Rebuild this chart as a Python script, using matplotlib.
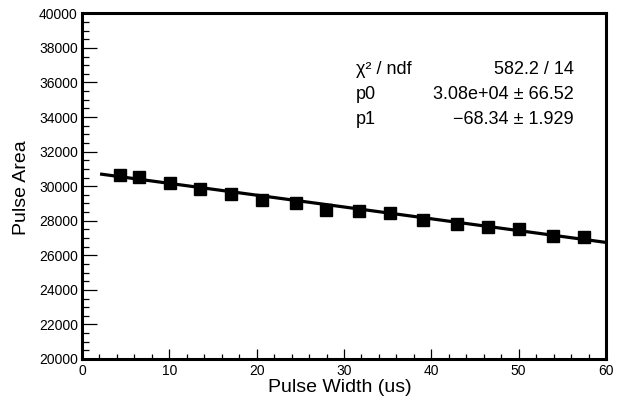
import matplotlib
matplotlib.use('Agg')
import matplotlib.pyplot as plt
from matplotlib.ticker import MultipleLocator

plt.rcParams['font.family'] = ['Liberation Sans', 'DejaVu Sans']

# measured points
pulse_width = [4.35, 6.49, 10.08, 13.51, 17.06, 20.65, 24.5, 27.94,
               31.75, 35.27, 39.08, 42.9, 46.52, 50.04, 53.97, 57.48]
pulse_area = [30671, 30521, 30191, 29862, 29538, 29209, 29018, 28630,
              28590, 28474, 28035, 27821, 27631, 27515, 27128, 27087]

# fit result (pol1)
p0 = 30845
p0_err = 66.52
p1 = -68.34
p1_err = 1.929
chi2 = 582.2
ndf = 14
fit_range = [2.25, 60]

fig = plt.figure(figsize=(6.21, 4.04), dpi=100)
ax = fig.add_axes([82/621, 1 - 359/404, (606-82)/621, (359-13.3)/404])

ax.plot(pulse_width, pulse_area, 's', color='black', markersize=8.6, zorder=3)
ax.plot(fit_range, [p0 + p1*x for x in fit_range], color='black', lw=2.3, zorder=2)

ax.set_xlim(0, 60)
ax.set_ylim(20000, 40000)
ax.xaxis.set_major_locator(MultipleLocator(10))
ax.xaxis.set_minor_locator(MultipleLocator(2))
ax.yaxis.set_major_locator(MultipleLocator(2000))
ax.yaxis.set_minor_locator(MultipleLocator(500))

for s in ax.spines.values():
    s.set_linewidth(2.2)
ax.tick_params(axis='both', which='both', direction='in', top=False, right=False,
               width=0.9, labelsize=10)
ax.tick_params(axis='x', which='major', length=7.5, pad=3.5)
ax.tick_params(axis='x', which='minor', length=3.7)
ax.tick_params(axis='y', which='major', length=10.6, pad=3)
ax.tick_params(axis='y', which='minor', length=5.3)

fig.text(340/621, 1 - 388/404, 'Pulse Width (us)', fontsize=14, ha='center', va='center')
fig.text(22/621, 1 - 188/404, 'Pulse Area', fontsize=14, ha='center', va='center', rotation=90)

# stats box (no border)
rows = [('χ² / ndf', f'{chi2:.1f} / {ndf}'),
        ('p0', f'{p0:.2e} ± {p0_err}'),
        ('p1', f'{p1:.2f} ± {p1_err}'.replace('-', '−'))]
for i, (name, val) in enumerate(rows):
    y = 1 - (70 + 24.5*i)/404
    fig.text(356/621, y, name, fontsize=13, ha='left', va='center')
    fig.text(574/621, y, val, fontsize=13, ha='right', va='center')

fig.savefig('out.png', dpi=100)
